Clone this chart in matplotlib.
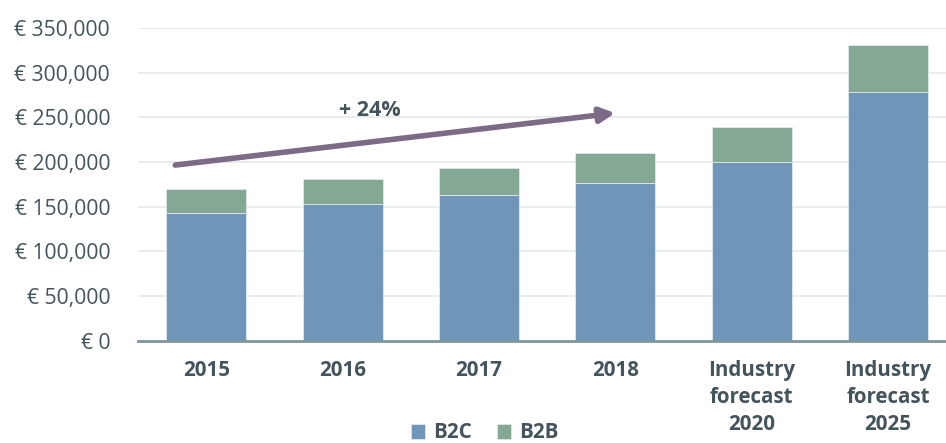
import matplotlib.pyplot as plt
from matplotlib.ticker import FuncFormatter

categories = ['2015', '2016', '2017', '2018', 'Industry\nforecast\n2020', 'Industry\nforecast\n2025']
b2c = [142500, 152500, 162500, 176000, 200500, 278000]
b2b = [27000, 28500, 30500, 33500, 38500, 53000]
growth_label = '+ 24%'

txt = '#44545c'
plt.rcParams['font.family'] = ['Open Sans', 'DejaVu Sans']

fig = plt.figure(figsize=(9.46, 4.43), dpi=100)
ax = fig.add_axes([0.1459, 0.231, 0.8541, 0.706])

x = list(range(len(categories)))
ax.bar(x, b2c, width=0.587, color='#6f96b8', edgecolor='#dfe8ee', linewidth=0.6, label='B2C', zorder=2)
ax.bar(x, b2b, width=0.587, bottom=b2c, color='#84a894', edgecolor='#dfe8ee', linewidth=0.6, label='B2B', zorder=2)

ax.set_ylim(0, 350000)
ax.set_xlim(-0.5, 5.425)
ax.set_yticks(range(0, 350001, 50000))
ax.yaxis.set_major_formatter(FuncFormatter(lambda v, p: '€ {:,.0f}'.format(v)))
ax.grid(axis='y', color='#e6eaea', linewidth=1.2, zorder=0)
ax.set_xticks(x)
ax.set_xticklabels(categories, fontweight='bold', linespacing=1.38)
ax.tick_params(axis='y', length=0, labelsize=15.2, labelcolor=txt, pad=20)
ax.tick_params(axis='x', length=0, labelsize=14.8, labelcolor=txt, pad=14)
for s in ['top', 'right', 'left']:
    ax.spines[s].set_visible(False)
ax.spines['bottom'].set_color('#7f959c')
ax.spines['bottom'].set_linewidth(2)

ax.annotate('', xy=(3.0, 254700), xytext=(-0.227, 196500),
            arrowprops=dict(arrowstyle='-|>', color='#7d6a86', lw=4, mutation_scale=22, shrinkA=0, shrinkB=0),
            zorder=3)
ax.text(1.2, 258000, growth_label, fontsize=15.5, fontweight='bold', color=txt, ha='center', va='center')

fig.legend(loc='center', bbox_to_anchor=(485 / 946, 1 - 433 / 443), ncol=2, frameon=False,
           labelcolor=txt, handlelength=0.7, handleheight=0.7, handletextpad=0.4,
           columnspacing=1.2, prop={'weight': 'bold', 'size': 14.8})

fig.savefig('out.png', dpi=100)
